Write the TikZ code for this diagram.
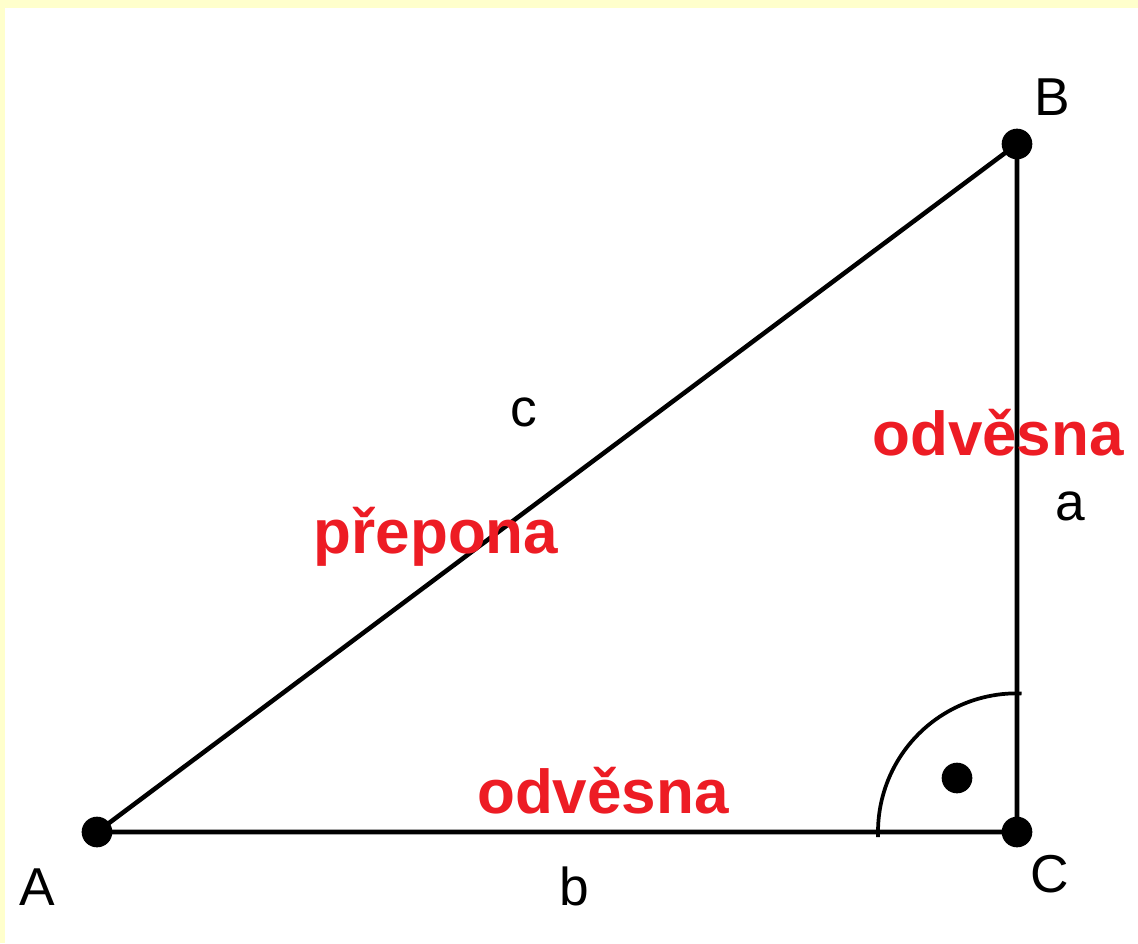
\documentclass[tikz,border=0pt]{standalone}
\usepackage{fontspec}
\setmainfont{Liberation Sans}
\usepackage{xcolor}
\usepackage{tikz}
\usetikzlibrary{calc}
\definecolor{PTRed}{HTML}{ED1C24}
\definecolor{PTFrame}{HTML}{FFFFCC}

\begin{document}
\begin{tikzpicture}[
    x=0.75pt,y=-0.75pt,
    side/.style={draw=black, line width=3.4pt},
    anglemark/.style={draw=black, line width=2.8pt},
    vertex/.style={fill=black},
    vlabel/.style={anchor=base, inner sep=0pt, font=\fontsize{40}{48}\selectfont},
    term/.style={anchor=base, inner sep=0pt, text=PTRed, font=\fontsize{46.5}{55}\selectfont\bfseries}
  ]
    \useasboundingbox (0,0) rectangle (1138,943);
    \fill[white] (0,0) rectangle (1138,943);
    \fill[PTFrame] (0,0) rectangle (1138,8);
    \fill[PTFrame] (0,0) rectangle (5,943);

    \coordinate (A) at (97,832);
    \coordinate (B) at (1017,144);
    \coordinate (C) at (1017,832);
    \coordinate (R) at (957,778);

    \draw[side] (A) -- (B) -- (C) -- cycle;
    \draw[anglemark] ($(C)+(-139,5)$) -- ($(C)+(-139,0)$) arc[start angle=180, end angle=88, radius=104pt];

    \foreach \p in {A,B,C,R}{\fill[vertex] (\p) circle (11.5pt);}

    \node[vlabel] (lA) at (37,905) {A};
    \node[vlabel] (lB) at (1052,115) {B};
    \node[vlabel] (lC) at (1050,892) {C};
    \node[vlabel] (la) at (1070,520) {a};
    \node[vlabel] (lb) at (574,905) {b};
    \node[vlabel] (lc) at (524,426) {c};

    \node[term] (hyp) at (436,553) {přepona};
    \node[term] (legA) at (998,455) {odvěsna};
    \node[term] (legB) at (603,813) {odvěsna};
  \end{tikzpicture}
\end{document}
